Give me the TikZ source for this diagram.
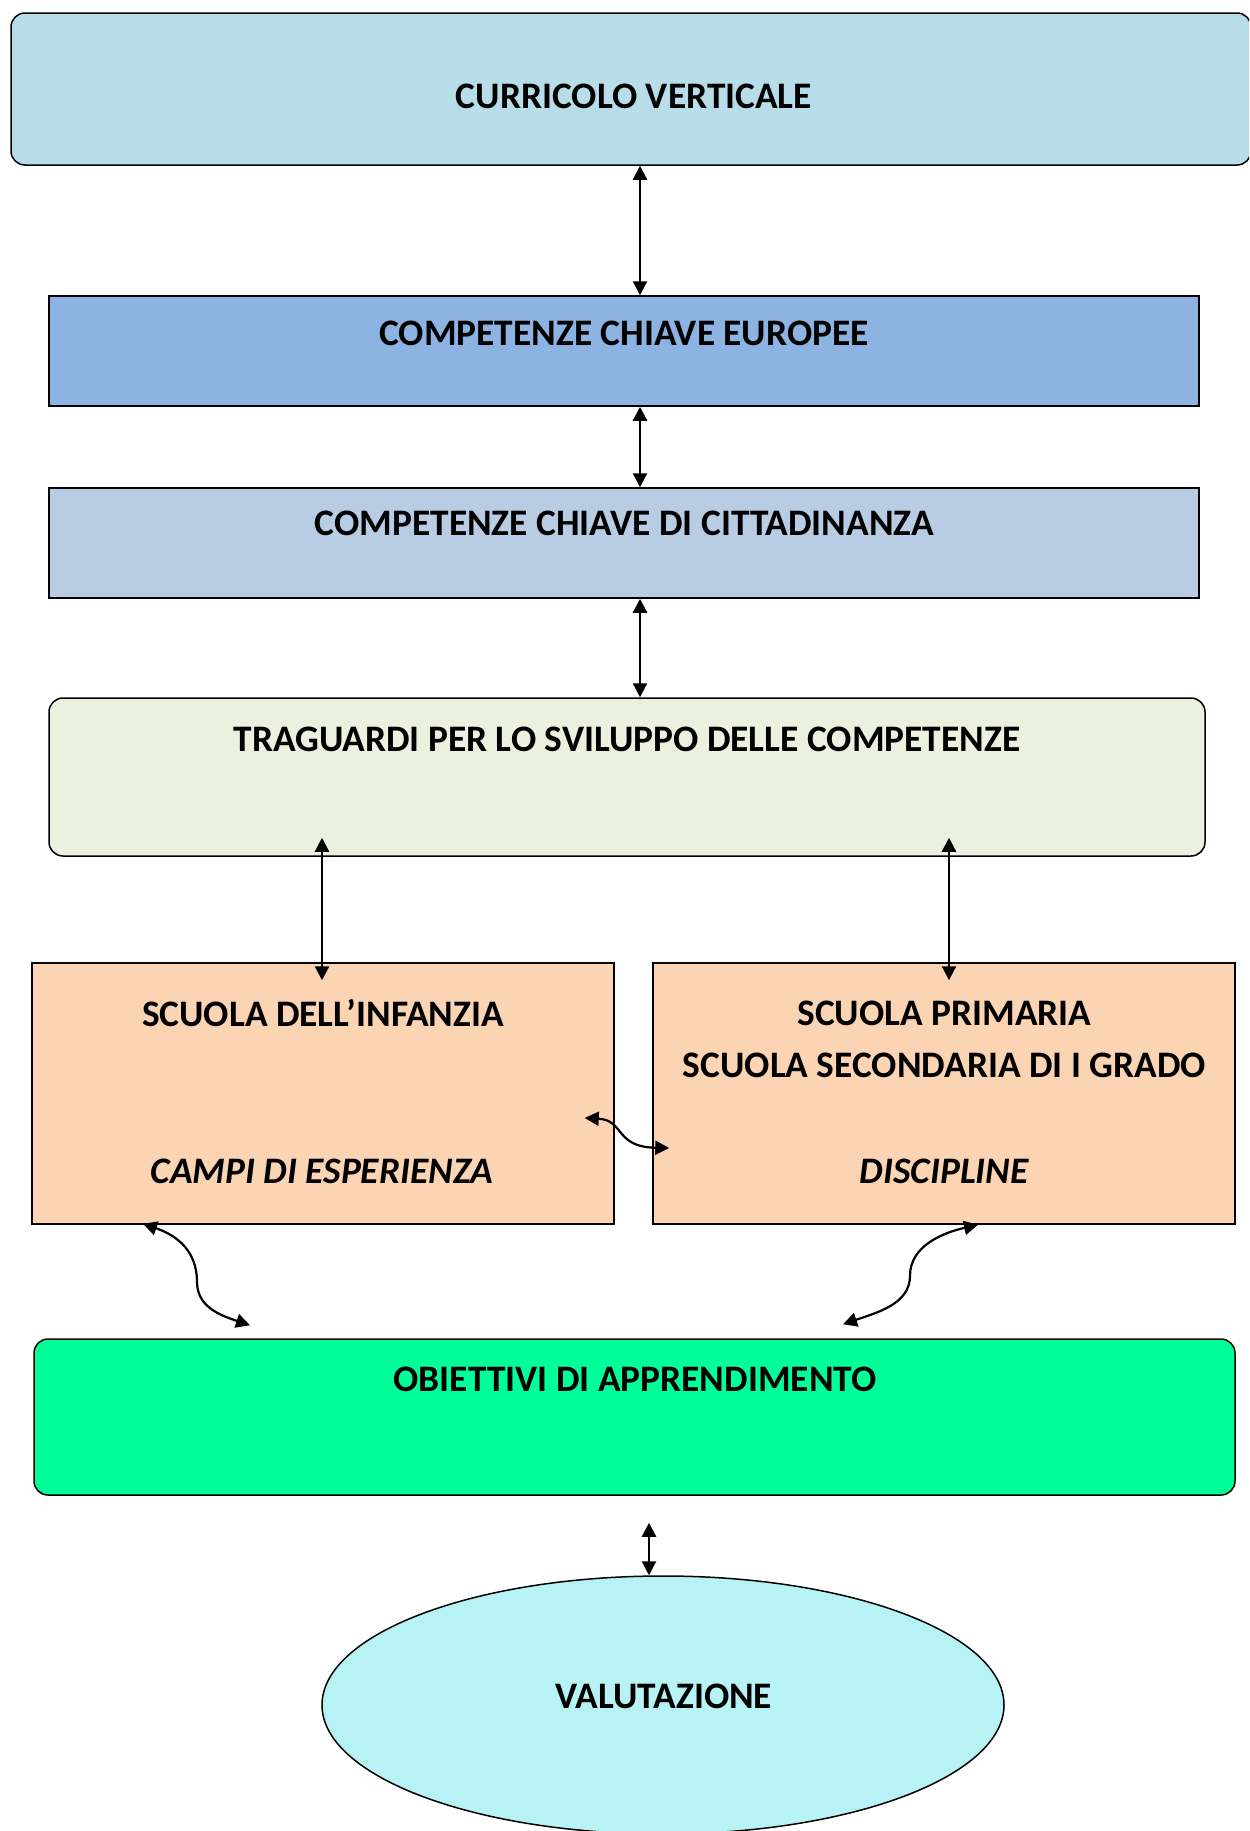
\documentclass[tikz,border=0pt]{standalone}
\usepackage{fontspec}
\setmainfont{Carlito}
\usepackage{tikz}
\usetikzlibrary{positioning,shapes,arrows.meta,fit,calc}
\definecolor{cvblue}{HTML}{B7DEE8}
\definecolor{eublue}{HTML}{8DB3E2}
\definecolor{citblue}{HTML}{B8CCE4}
\definecolor{tragreen}{HTML}{EBF1DE}
\definecolor{peach}{HTML}{FBD4B4}
\definecolor{mint}{HTML}{00FF99}
\definecolor{aqua}{HTML}{B7F2F4}
\tikzstyle{bx}=[%
      rectangle, draw=black, line width=0.75pt, inner sep=0pt
]
\tikzstyle{rbx}=[%
      bx, rounded corners=7pt
]
\tikzstyle{tx}=[%
      font=\fontsize{18.7}{26}\selectfont\bfseries, align=center, inner sep=0pt
]
\tikzstyle{lk}=[%
      <->, >={Triangle[length=7pt,width=7pt]}, line width=1.1pt
]

\begin{document}
\begin{tikzpicture}[x=0.5pt,y=-0.5pt]
    \clip (0,0) rectangle (1249,1831);

    \node[rbx, fill=cvblue, fit={(11,13) (1251,165)}]     (cv)   {};
    \node[bx, fill=eublue, fit={(49,296) (1199,406)}]     (eur)  {};
    \node[bx, fill=citblue, fit={(49,488) (1199,598)}]    (citt) {};
    \node[rbx, fill=tragreen, fit={(49,698) (1205,856)}]  (trag) {};
    \node[bx, fill=peach, fit={(32,963) (614,1224)}]      (inf)  {};
    \node[bx, fill=peach, fit={(653,963) (1235,1224)}]    (prim) {};
    \node[rbx, fill=mint, fit={(34,1339) (1235,1495)}]    (obj)  {};
    \node[ellipse, draw=black, line width=0.75pt, fill=aqua, inner sep=0pt,
          minimum width=341pt, minimum height=129pt]       (val) at (663,1705) {};

    \node[tx] (cv-t)   at (634,96)    {CURRICOLO VERTICALE};
    \node[tx] (eur-t)  at (624,333)   {COMPETENZE CHIAVE EUROPEE};
    \node[tx] (citt-t) at (624.5,523) {COMPETENZE CHIAVE DI CITTADINANZA};
    \node[tx] (trag-t) at (627,739)   {TRAGUARDI PER LO SVILUPPO DELLE COMPETENZE};
    \node[tx] (inf-t)  at (323,1013)  {SCUOLA DELL’INFANZIA};
    \node[tx] (inf-c)  at (322,1171)  {\textit{CAMPI DI ESPERIENZA}};
    \node[tx] (prim-t) at (944.5,1039) {SCUOLA PRIMARIA\\SCUOLA SECONDARIA DI I GRADO};
    \node[tx] (prim-d) at (944.5,1171) {\textit{DISCIPLINE}};
    \node[tx] (obj-t)  at (635,1379)  {OBIETTIVI DI APPRENDIMENTO};
    \node[tx] (val-t)  at (664,1696)  {VALUTAZIONE};

    \coordinate (ax) at (640,0);
    \draw[lk] (cv.south -| ax) -- (eur.north -| ax);
    \draw[lk] (eur.south -| ax) -- (citt.north -| ax);
    \draw[lk] (citt.south -| ax) -- (trag.north -| ax);

    \draw[lk] ($(trag.south -| inf.north)+(-1,-19)$) -- ($(inf.north)+(-1,18)$);
    \draw[lk] ($(trag.south -| prim.north)+(5,-19)$) -- ($(prim.north)+(5,18)$);

    \draw[lk] ($(inf.east)+(-30,24.5)$) .. controls +(40,2) and +(-55,-1) .. ($(prim.west)+(17,54.5)$);

    \draw[lk] ($(inf.south)+(-180,-1)$) .. controls +(35,12) and +(0,-30) .. ($(inf.south)+(-126,57)$)
              .. controls +(0,25) and +(-30,-10) .. ($(obj.north)+(-384.5,-13)$);
    \draw[lk] ($(prim.south)+(34,0)$) .. controls +(-35,8) and +(0,-30) .. ($(prim.south)+(-34,51)$)
              .. controls +(0,28) and +(35,-12) .. ($(obj.north)+(208.5,-14)$);

    \draw[lk] ($(obj.south -| val.north)+(-14,27)$) -- ($(val.north)+(-14,0)$);
\end{tikzpicture}
\end{document}
